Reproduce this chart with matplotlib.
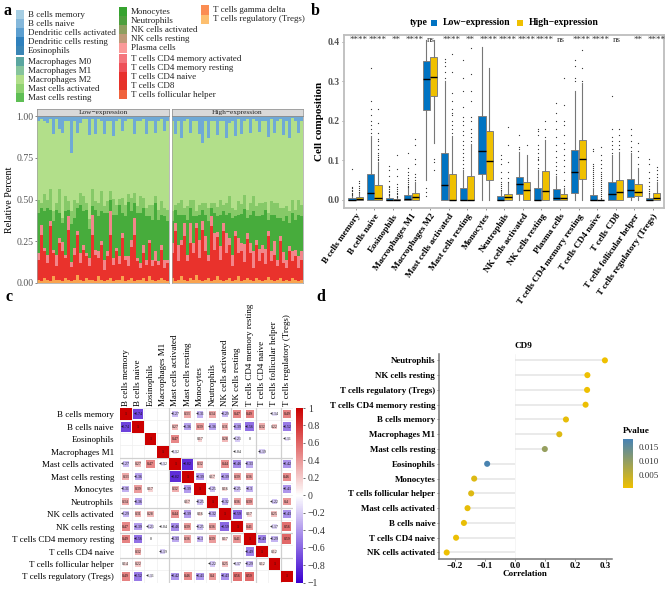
import matplotlib
matplotlib.use("Agg")
import matplotlib.pyplot as plt
import numpy as np
from matplotlib.cm import ScalarMappable
from matplotlib.colors import LinearSegmentedColormap, Normalize
from matplotlib.patches import Rectangle

plt.rcParams['font.family'] = ['Liberation Serif', 'DejaVu Sans']

W, H = 669, 603

# panel a: legend
legend_col1 = ["B cells memory", "B cells naive", "Dendritic cells activated", "Dendritic cells resting", "Eosinophils",
               "Macrophages M0", "Macrophages M1", "Macrophages M2", "Mast cells activated", "Mast cells resting"]
legend_col2 = ["Monocytes", "Neutrophils", "NK cells activated", "NK cells resting", "Plasma cells",
               "T cells CD4 memory activated", "T cells CD4 memory resting", "T cells CD4 naive", "T cells CD8",
               "T cells follicular helper"]
legend_col3 = ["T cells gamma delta", "T cells regulatory (Tregs)"]
colors_col1 = ["#A6CEE3", "#85B8DB", "#5C9FD0", "#2F80BC", "#3A85B5", "#5AA6A0", "#86C49C", "#B2DF8A", "#90D272", "#5FBE55"]
colors_col2 = ["#36A32F", "#4E9F3D", "#8F9F5F", "#C09A78", "#FB9A99", "#F4757C", "#EE5058", "#E8302C", "#E63228", "#F0623C"]
colors_col3 = ["#FB8D52", "#FDBF6F"]

# panel a: stacked fractions, bottom layer first
low_orange = [.02, .01, .03, .02, .01, .04, .02, .02, .01, .03, .02, .01, .02, .05, .02, .01, .03, .02, .02, .01, .04, .02,
              .01, .02, .03, .01, .02, .02, .04, .01, .02, .03, .01, .02, .02, .03, .01, .04, .02, .01, .02, .03, .02, .01]
low_red = [.12, .28, .16, .10, .33, .14, .08, .22, .18, .12, .30, .09, .15, .24, .10, .19, .13, .08, .27, .16, .11, .21,
           .07, .14, .26, .10, .17, .09, .23, .13, .08, .18, .28, .11, .07, .15, .10, .20, .08, .12, .09, .16, .07, .11]
low_pink = [.04, .06, .02, .05, .03, .02, .07, .03, .05, .02, .08, .03, .04, .02, .06, .03, .02, .05, .12, .03, .04, .02,
            .06, .03, .14, .04, .02, .05, .03, .02, .06, .04, .10, .02, .03, .05, .03, .02, .04, .06, .02, .03, .05, .02]
low_green = [.24, .10, .22, .28, .07, .17, .27, .15, .11, .26, .04, .24, .18, .14, .29, .20, .26, .17, .05, .24, .21, .18,
             .28, .23, .07, .26, .20, .30, .12, .24, .32, .17, .09, .27, .30, .22, .26, .14, .24, .29, .25, .17, .26, .23]
low_mid = [.08, .03, .10, .05, .12, .06, .04, .14, .03, .09, .05, .08, .11, .03, .07, .09, .04, .06, .10, .05, .08, .12,
           .04, .07, .05, .10, .06, .04, .09, .07, .05, .08, .06, .04, .10, .06, .05, .07, .09, .04, .06, .08, .05, .07]
low_light = [.47, .50, .44, .46, .42, .46, .50, .36, .50, .45, .48, .36, .47, .42, .42, .46, .50, .50, .42, .40, .50, .42,
             .43, .48, .42, .38, .50, .47, .40, .50, .44, .46, .35, .51, .45, .47, .44, .50, .50, .38, .53, .47, .46, .53]
low_blue = [.03, .02, .03, .04, .02, .11, .02, .08, .10, .03, .03, .23, .03, .10, .04, .02, .02, .11, .02, .11, .02, .03,
            .11, .03, .03, .12, .03, .02, .09, .03, .02, .02, .11, .03, .03, .02, .11, .03, .03, .10, .03, .02, .09, .03]

high_orange = [.03, .01, .02, .04, .02, .01, .03, .02, .05, .02, .01, .02, .03, .01, .02, .04, .02, .01, .02, .03, .01, .02,
               .04, .01, .02, .03, .02, .01, .03, .02, .01, .02, .04, .02, .01, .02, .03, .01, .02, .01, .03, .02, .01, .02]
high_red = [.15, .30, .11, .19, .26, .12, .21, .16, .28, .13, .31, .17, .10, .33, .18, .23, .12, .30, .16, .20, .09, .26,
            .14, .19, .11, .24, .15, .08, .20, .12, .17, .09, .25, .11, .16, .08, .22, .12, .07, .18, .10, .14, .08, .12]
high_pink = [.06, .05, .10, .03, .08, .04, .12, .06, .03, .11, .05, .09, .04, .06, .10, .03, .08, .05, .12, .04, .07, .03,
             .09, .05, .11, .04, .06, .10, .03, .07, .05, .09, .03, .06, .08, .04, .03, .07, .05, .03, .06, .04, .07, .05]
high_green = [.13, .08, .18, .15, .05, .21, .09, .16, .04, .15, .07, .13, .20, .05, .12, .10, .19, .07, .11, .15, .22, .09,
              .14, .18, .21, .09, .16, .24, .14, .21, .18, .23, .07, .22, .16, .25, .11, .20, .26, .14, .23, .18, .25, .21]
high_mid = [.06, .03, .07, .09, .04, .08, .05, .10, .03, .06, .04, .07, .08, .03, .06, .05, .09, .04, .07, .10, .06, .04,
            .08, .06, .09, .05, .07, .09, .06, .08, .07, .05, .04, .08, .07, .09, .06, .08, .06, .07, .08, .06, .09, .07]
high_light = [.54, .42, .49, .37, .52, .52, .40, .47, .54, .42, .36, .49, .42, .49, .49, .43, .47, .50, .39, .44, .52, .44,
              .49, .44, .45, .56, .40, .46, .51, .44, .49, .48, .47, .49, .42, .49, .53, .47, .51, .44, .49, .53, .40, .50]
high_blue = [.03, .11, .03, .13, .03, .02, .10, .03, .03, .11, .16, .03, .13, .03, .03, .11, .03, .03, .13, .04, .03, .12,
             .02, .11, .03, .02, .10, .02, .03, .10, .03, .03, .13, .02, .10, .03, .02, .12, .03, .13, .01, .03, .10, .03]
stack_colors = ["#F9A34F", "#E9322C", "#F2868A", "#47AC3C", "#86C968", "#B2DF8A", "#6FA9D6"]

# panel b
box_names = ["B cells memory", "B cells naive", "Eosinophils", "Macrophages M1", "Macrophages M2", "Mast cells activated",
             "Mast cells resting", "Monocytes", "Neutrophils", "NK cells activated", "NK cells resting", "Plasma cells",
             "T cells CD4 memory resting", "T cells CD4 naive", "T cells CD8", "T cells follicular helper",
             "T cells regulatory (Tregs)"]
sig_labels = ["****", "****", "**", "****", "ns", "****", "**", "****", "****", "****", "****", "ns", "****", "****", "ns",
              "**", "****"]
low_q1 = [0, 0, 0, 0, .228, 0, 0, .065, 0, .016, 0, 0, .018, 0, 0, .008, 0]
low_med = [.001, .018, .001, .002, .306, .038, 0, .124, 0, .04, .001, .006, .07, 0, .016, .026, .001]
low_q3 = [.004, .066, .004, .012, .351, .12, .03, .213, .01, .059, .03, .027, .127, .012, .045, .054, .006]
low_lo = [0, 0, 0, 0, .05, 0, 0, 0, 0, 0, 0, 0, 0, 0, 0, 0, 0]
low_hi = [.01, .163, .01, .03, .405, .30, .075, .388, .022, .122, .075, .06, .276, .03, .113, .12, .015]
low_fliers = [
    [.012, .015, .018, .022, .026, .03, .034, .078],
    [.17, .18, .19, .2, .215, .23, .25, .335],
    [.012, .015, .019, .023, .027, .032, .036, .048, .06, .075, .087],
    [.032, .036, .04, .045, .05, .056, .062, .07, .08, .118],
    [.03, .02, .01],
    [.31, .325, .34, .35, .358],
    [.08, .09, .10, .11, .12, .13, .14, .15, .165, .175, .19, .2, .21, .235, .275, .31, .355],
    [],
    [.025, .03, .035, .04, .046, .055, .07, .09, .105, .115],
    [.13, .135, .165],
    [.08, .09, .1, .105, .11, .12, .13, .14, .165, .175, .18],
    [.065, .075, .085, .095, .11, .125, .14, .16, .18, .2, .22, .245],
    [.3, .31, .34, .355],
    [.035, .04, .045, .05, .055, .06, .065, .07, .075, .08, .085, .09, .125, .13],
    [.12, .13, .14, .15, .16, .18, .262],
    [.125, .135, .15, .165, .18],
    [.018, .022, .028, .035, .045, .055, .07, .09, .105],
]
high_q1 = [0, 0, 0, 0, .262, 0, 0, .05, 0, 0, 0, 0, .052, 0, 0, .009, 0]
high_med = [.002, .004, 0, .007, .311, 0, 0, .098, .007, .025, .023, .004, .104, 0, .021, .02, .004]
high_q3 = [.007, .038, .002, .018, .362, .067, .06, .175, .016, .046, .074, .014, .152, .001, .05, .04, .017]
high_lo = [0, 0, 0, 0, .145, 0, 0, 0, 0, 0, 0, 0, 0, 0, 0, 0, 0]
high_hi = [.017, .096, .005, .045, .405, .163, .142, .335, .042, .113, .153, .03, .295, .002, .122, .082, .045]
high_fliers = [
    [.02, .025, .03, .035, .042, .048],
    [.10, .105, .11, .115, .12, .13, .14, .15, .155, .17, .195, .23],
    [.007, .01, .014, .018, .022, .027, .032, .04, .06, .078, .115],
    [.05, .058, .065, .09, .103, .14, .155],
    [.105, .095, .075],
    [.17, .18, .19, .2, .215, .22, .23, .25, .27, .325, .37],
    [.15, .16, .17, .18, .2, .21, .25, .275, .32, .385],
    [],
    [.045, .055, .07, .095, .14, .185],
    [.14],
    [.16, .18, .2],
    [.035, .05, .07, .085, .1, .115, .13, .145, .165, .19, .2, .24, .31],
    [.3, .333, .38],
    [.005, .01, .015, .02, .025, .03, .035, .04, .045, .05, .055, .06, .065, .07, .08, .09, .1, .115, .135],
    [.13, .14, .15, .165, .18],
    [.09, .11, .125, .145],
    [.05, .058, .065, .075, .083],
]

# panel c
corr_names = ["B cells memory", "B cells naive", "Eosinophils", "Macrophages M1", "Mast cells activated", "Mast cells resting",
              "Monocytes", "Neutrophils", "NK cells activated", "NK cells resting", "T cells CD4 memory resting",
              "T cells CD4 naive", "T cells follicular helper", "T cells regulatory (Tregs)"]
n = np.nan
corr_values = [
    [1, -.74, n, n, -.27, .33, -.31, .34, -.29, .47, .49, n, -.14, .49],
    [-.74, 1, n, n, .27, -.36, .39, -.36, .31, -.39, -.56, .32, .22, -.52],
    [n, n, 1, n, .47, n, .17, n, .28, -.21, 0, n, n, -.11],
    [n, n, n, 1, -.12, n, n, n, n, -.04, n, -.19, n, n],
    [-.27, .27, .47, -.12, 1, -.82, .32, n, .44, -.46, -.33, n, n, -.42],
    [.33, -.36, n, n, -.82, 1, -.39, .17, -.39, .39, .36, n, n, .46],
    [-.31, .39, .17, n, .32, -.39, 1, -.25, .16, -.25, -.3, n, n, -.41],
    [.34, -.36, n, n, n, .17, -.25, 1, -.32, .36, .39, n, -.22, .4],
    [-.29, .31, .28, n, .44, -.39, .16, -.32, 1, -.59, .17, n, .25, -.43],
    [.47, -.39, -.21, -.04, -.46, .39, -.25, .36, -.59, 1, .41, n, -.17, .56],
    [.49, -.56, 0, n, -.33, .36, -.3, .39, .17, .41, 1, -.49, -.29, .59],
    [n, .32, n, -.19, n, n, n, n, n, n, -.49, 1, .12, n],
    [.14, .22, n, n, n, n, n, -.22, .25, -.17, -.29, .12, 1, n],
    [.49, -.52, -.11, n, -.42, .46, -.41, .4, -.43, .56, .59, n, n, 1],
]
corr_ticks = [1, .8, .6, .4, .2, 0, -.2, -.4, -.6, -.8, -1]
corr_tick_labels = ["1", "0.8", "0.6", "0.4", "0.2", "0", "\u22120.2", "\u22120.4", "\u22120.6", "\u22120.8", "\u22121"]

# panel d
lolli_names = ["Neutrophils", "NK cells resting", "T cells regulatory (Tregs)", "T cells CD4 memory resting", "B cells memory",
               "Macrophages M1", "Mast cells resting", "Eosinophils", "Monocytes", "T cells follicular helper",
               "Mast cells activated", "B cells naive", "T cells CD4 naive", "NK cells activated"]
lolli_corr = [.298, .24, .239, .234, .169, .147, .099, -.092, -.135, -.145, -.157, -.169, -.195, -.226]
lolli_p = [.0001, .0003, .0003, .0004, .001, .002, .0095, .0175, .002, .002, .001, .0008, .0005, .0002]


def px_axes(left, top, right, bottom):
    return fig.add_axes([left / W, 1 - bottom / H, (right - left) / W, (bottom - top) / H])


def fig_text(x, y, s, **kw):
    fig.text(x / W, 1 - y / H, s, **kw)


def draw_stack(ax, layers):
    layers = np.array(layers, dtype=float)
    layers = layers / layers.sum(axis=0)
    xs = np.arange(layers.shape[1])
    bottom = np.zeros(layers.shape[1])
    for vals, col in zip(layers, stack_colors):
        ax.bar(xs, vals, bottom=bottom, width=1.0, color=col, linewidth=0)
        bottom += vals
    ax.set_xlim(-0.5, layers.shape[1] - 0.5)
    ax.set_ylim(0, 1)
    ax.set_xticks([])
    for s in ax.spines.values():
        s.set_color("#A0A0A0")
        s.set_linewidth(0.5)


def draw_strip(left, right, label):
    strip = px_axes(left, 109, right, 116)
    strip.set_facecolor("#D9D9D9")
    strip.set_xticks([])
    strip.set_yticks([])
    for s in strip.spines.values():
        s.set_color("#8a8a8a")
        s.set_linewidth(0.5)
    strip.text(0.5, 0.45, label, transform=strip.transAxes, ha="center", va="center", fontsize=5.3, color="#222222")


fig = plt.figure(figsize=(W / 100, H / 100), dpi=100)

# panel letters
for letter, x, y in [("a", 3, 11), ("b", 311, 11), ("c", 6, 297), ("d", 316, 297)]:
    fig_text(x, y, letter, fontsize=11.5, fontweight="bold", va="center")

# a legend
swatch_ys = {0: [14.7, 23.7, 32.7, 41.7, 50.7, 61.7, 70.7, 79.7, 88.7, 97.7],
             1: [12, 21, 30, 39, 48, 58.7, 67.7, 76.7, 85.7, 94.7],
             2: [10, 19.3]}
for col, (names, cols, sx, tx) in enumerate([(legend_col1, colors_col1, 16, 27.7), (legend_col2, colors_col2, 119.3, 130.7),
                                             (legend_col3, colors_col3, 201, 212.7)]):
    for name, c, yy in zip(names, cols, swatch_ys[col]):
        fig.patches.append(Rectangle((sx / W, 1 - (yy + 4.5) / H), 8 / W, 9 / H, transform=fig.transFigure, color=c, lw=0))
        fig_text(tx, yy, name, fontsize=6.5, va="center", color="#222222")

# a stacked bars
ax_low = px_axes(37, 116, 169, 283)
draw_stack(ax_low, [low_orange, low_red, low_pink, low_green, low_mid, low_light, low_blue])
ax_low.set_yticks([0, .25, .5, .75, 1])
ax_low.set_yticklabels(["0.00", "0.25", "0.50", "0.75", "1.00"], fontsize=7, color="#555555")
ax_low.tick_params(axis="y", length=1.5, width=0.5, pad=1, color="#555555")
ax_low.set_ylabel("Relative Percent", fontsize=7.2, labelpad=2)
ax_high = px_axes(171.5, 116, 303, 283)
draw_stack(ax_high, [high_orange, high_red, high_pink, high_green, high_mid, high_light, high_blue])
ax_high.set_yticks([])
draw_strip(37, 169, "Low\u2212expression")
draw_strip(171.5, 303, "High\u2212expression")

# b boxplots
ax_b = px_axes(344, 35, 664, 208)
for stats_src, shift, face in [((low_q1, low_med, low_q3, low_lo, low_hi, low_fliers), -0.2, "#0073C2"),
                               ((high_q1, high_med, high_q3, high_lo, high_hi, high_fliers), 0.2, "#EFC000")]:
    q1, med, q3, lo, hi, fl = stats_src
    stats = [dict(med=m, q1=a, q3=b, whislo=c, whishi=d, fliers=f) for a, m, b, c, d, f in zip(q1, med, q3, lo, hi, fl)]
    ax_b.bxp(stats, positions=np.arange(len(stats)) + shift, widths=0.38, patch_artist=True, showcaps=False,
             boxprops=dict(facecolor=face, edgecolor="#808080", linewidth=0.7),
             medianprops=dict(color="black", linewidth=1.0),
             whiskerprops=dict(color="#777777", linewidth=0.8),
             flierprops=dict(marker="o", markersize=0.9, markerfacecolor="#333333", markeredgewidth=0),
             manage_ticks=False)
for i, lab in enumerate(sig_labels):
    ax_b.text(i + (0.03 if lab == "ns" else 0.18), 0.405, lab, ha="center", va="center", fontsize=6.5, color="#333333")
ax_b.set_xlim(-0.63, 16.6)
ax_b.set_ylim(-0.0203, 0.4177)
ax_b.set_yticks([0, .1, .2, .3, .4])
ax_b.set_yticklabels(["0.0", "0.1", "0.2", "0.3", "0.4"], fontsize=7, fontweight="bold", color="#555555")
ax_b.set_xticks(np.arange(len(box_names)))
ax_b.set_xticklabels(box_names, rotation=55, ha="right", rotation_mode="anchor", fontsize=6.6, fontweight="bold")
ax_b.tick_params(length=1.5, width=0.5, pad=1.5, color="#666666")
ax_b.set_ylabel("Cell composition", fontsize=8, fontweight="bold", labelpad=3)
for s in ax_b.spines.values():
    s.set_color("#BDBDBD")
    s.set_linewidth(1.3)
# b legend
fig_text(410, 22.5, "type", fontsize=7, fontweight="bold", va="center")
fig_text(442.7, 22.5, "Low\u2212expression", fontsize=7, fontweight="bold", va="center")
fig_text(528.7, 22.5, "High\u2212expression", fontsize=7, fontweight="bold", va="center")
for sx, c in [(431, "#0073C2"), (516.7, "#EFC000")]:
    fig.patches.append(Rectangle((sx / W, 1 - 25.5 / H), 6.5 / W, 6 / H, transform=fig.transFigure, color=c, lw=0))

# c correlation matrix
corr_cmap = LinearSegmentedColormap.from_list("corr", ["#3A00D0", "#FFFFFF", "#CC0000"])
corr_norm = Normalize(-1, 1)
ax_c = px_axes(119.5, 408, 293, 582.7)
size = len(corr_names)
ax_c.set_xlim(0, size)
ax_c.set_ylim(size, 0)
for k in range(size + 1):
    ax_c.axhline(k, color="#EFEFEF", lw=0.5)
    ax_c.axvline(k, color="#EFEFEF", lw=0.5)
for k in [4, 9, 11, 13]:
    ax_c.axvline(k, color="#D0D0D0", lw=0.9)
for k in [4, 8, 10, 12]:
    ax_c.axhline(k, color="#D0D0D0", lw=0.9)
for r, row in enumerate(corr_values):
    for c, v in enumerate(row):
        if np.isnan(v):
            continue
        side = 0.95 * np.sqrt(abs(v))
        ax_c.add_patch(Rectangle((c + 0.5 - side / 2, r + 0.5 - side / 2), side, side, color=corr_cmap(corr_norm(v)), lw=0, zorder=3))
        txt = "1" if v == 1 else ("0" if v == 0 else f"{v:.2f}".rstrip("0").replace("-", "\u2212"))
        ax_c.text(c + 0.5, r + 0.5, txt, ha="center", va="center", fontsize=2.8, color="#111111", zorder=4)
ax_c.set_xticks(np.arange(size) + 0.5)
ax_c.set_yticks(np.arange(size) + 0.5)
ax_c.set_yticklabels(corr_names, fontsize=6.5)
ax_c.xaxis.tick_top()
ax_c.set_xticklabels(corr_names, rotation=90, fontsize=6.5)
ax_c.tick_params(axis="x", length=0, pad=1.5)
ax_c.tick_params(axis="y", length=0, pad=4)
for s in ax_c.spines.values():
    s.set_visible(False)

cax_c = px_axes(296, 408, 303, 582.7)
cb_c = fig.colorbar(ScalarMappable(norm=corr_norm, cmap=corr_cmap), cax=cax_c)
cb_c.outline.set_visible(False)
cb_c.set_ticks(corr_ticks)
cb_c.set_ticklabels(corr_tick_labels, fontsize=7, color="#333333")
cax_c.tick_params(length=1.5, width=0.4, pad=2)

# d lollipop
ax_d = px_axes(438.7, 354, 612, 559)
ys = np.arange(len(lolli_names))
p_cmap = LinearSegmentedColormap.from_list("pval", ["#EFC000", "#4682B4"])
p_norm = Normalize(0.0001, 0.0179)
ax_d.hlines(ys, 0, lolli_corr, color="#E4E4E4", lw=1.1, zorder=1)
ax_d.scatter(lolli_corr, ys, c=lolli_p, cmap=p_cmap, norm=p_norm, s=19, linewidths=0, zorder=2)
ax_d.axvline(0, color="#F2F2F2", lw=0.5, zorder=0)
ax_d.set_ylim(len(lolli_names) - 1 + 0.44, -0.43)
ax_d.set_xlim(-0.2525, 0.3215)
ax_d.set_yticks(ys)
ax_d.set_yticklabels(lolli_names, fontsize=6.4, fontweight="bold")
ax_d.set_xticks([-.2, -.1, 0, .1, .2, .3])
ax_d.set_xticklabels(["\u22120.2", "\u22120.1", "0.0", "0.1", "0.2", "0.3"], fontsize=6.4, fontweight="bold")
ax_d.tick_params(length=1.5, width=0.5, pad=1, color="#555555")
ax_d.set_xlabel("Correlation", fontsize=6.5, fontweight="bold", labelpad=0)
for side in ["top", "right"]:
    ax_d.spines[side].set_visible(False)
for side in ["left", "bottom"]:
    ax_d.spines[side].set_color("#777777")
    ax_d.spines[side].set_linewidth(1.1)
fig_text(523, 345.5, "CD9", fontsize=6.6, fontweight="bold", ha="center", va="center")

cax_d = px_axes(623, 439, 633, 488)
cb_d = fig.colorbar(ScalarMappable(norm=p_norm, cmap=p_cmap), cax=cax_d)
cb_d.outline.set_visible(False)
cb_d.set_ticks([.005, .010, .015])
cb_d.set_ticklabels(["0.005", "0.010", "0.015"], fontsize=6.5, color="#333333")
cax_d.tick_params(length=0, pad=4)
fig_text(623, 431, "Pvalue", fontsize=6.7, fontweight="bold", va="center")

fig.savefig("out.png", dpi=100)
